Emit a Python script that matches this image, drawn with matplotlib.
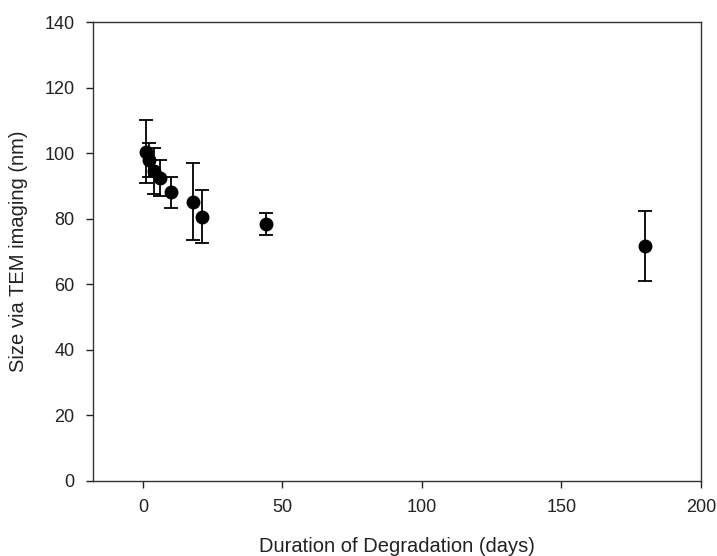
# TEM size vs degradation time

import matplotlib
matplotlib.use('Agg')
import matplotlib.pyplot as plt

days = [1, 2, 4, 6, 10, 18, 21, 44, 180]
size_nm = [100.4, 97.9, 94.5, 92.3, 88.0, 85.2, 80.6, 78.4, 71.6]
size_err = [9.6, 5.3, 6.9, 5.5, 4.7, 11.7, 8.0, 3.3, 10.6]

x_ticks = [0, 50, 100, 150, 200]
y_ticks = [0, 20, 40, 60, 80, 100, 120, 140]

plt.rcParams['font.family'] = ['Liberation Sans', 'DejaVu Sans']

fig = plt.figure(figsize=(7.17, 5.56), dpi=100)
ax = fig.add_axes([0.1293, 0.1354, 0.8484, 0.825])

ax.errorbar(days, size_nm, yerr=size_err, fmt='o', color='black',
            markersize=9, elinewidth=1.3, capsize=5, capthick=1.3)

ax.set_xlim(-18, 200)
ax.set_ylim(0, 140)
ax.set_xticks(x_ticks)
ax.set_yticks(y_ticks)
ax.tick_params(direction='out', length=5, width=1, labelsize=13, pad=8,
               colors='#222222')
for s in ax.spines.values():
    s.set_color('#333333')
    s.set_linewidth(1)

ax.set_xlabel('Duration of Degradation (days)', fontsize=14.5, labelpad=15,
              color='#222222')
ax.set_ylabel('Size via TEM imaging (nm)', fontsize=14.5, labelpad=12,
              color='#222222')

fig.savefig('out.png', dpi=100)
